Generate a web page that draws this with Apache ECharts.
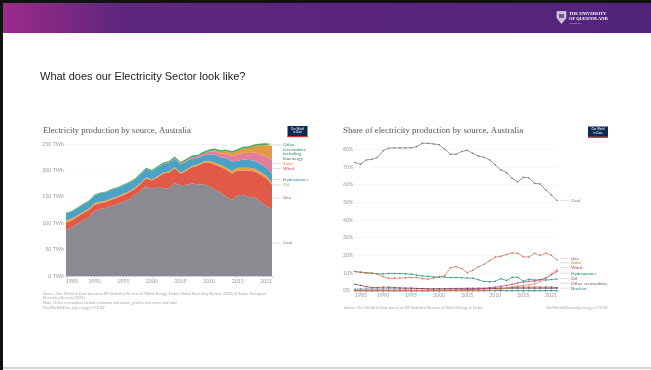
<!DOCTYPE html>
<html>
<head>
<meta charset="utf-8">
<script src="https://cdn.jsdelivr.net/npm/echarts/dist/echarts.min.js"></script>
<style>
html,body{margin:0;padding:0;background:#fff;}
#slide{width:651px;height:370px;}
</style>
</head>
<body>
<div id="slide"></div>
<script>
// Years on the horizontal axes
const years = ['1985','1986','1987','1988','1989','1990','1991','1992','1993','1994',
  '1995','1996','1997','1998','1999','2000','2001','2002','2003','2004',
  '2005','2006','2007','2008','2009','2010','2011','2012','2013','2014',
  '2015','2016','2017','2018','2019','2020','2021'];
const labelYears = ['1985','1990','1995','2000','2005','2010','2015','2021'];

// Electricity production by source, TWh
const coalTWh  = [88,92,99,105,111,123,127,129,133,136, 140,145,153,161,170,165,169,166,166,176, 172,173,175,174,174,170,164,158,150,144, 153,154,149,149,140,133,126];
const gasTWh   = [13,13,13,14,14,12,11,11,12,12, 13,13,12,13,15,16,18,28,30,28, 22,26,31,35,40,45,47,49,51,50, 47,46,51,49,52,52,47];
const oilTWh   = [4.6,3.8,3.1,2.5,2.7,3.1,3.1,2.9,2.6,2.5, 2.6,2.3,2.2,2.1,2.1,2,2.1,2.2,2.2,2.2, 2.2,2.2,2.3,2.3,2.4,3.1,3.6,3.6,4.2,4.7, 4.8,4.8,4.9,4.9,5,4.9,4.4];
const hydroTWh = [13.3,13.4,13.7,14.1,14.1,14.7,15.4,15.7,15.9,16.1, 16.1,15.7,15.2,15.8,16,15.6,16.2,15.9,16.1,16.3, 15.6,15.5,14.2,12,11.8,12.7,15.6,13.7,17.7,18, 13.4,15.7,14.7,15.6,15,15.4,16.3];
const windTWh  = [0,0,0,0,0,0,0,0,0,0, 0,0,0,0,0,0,0.2,0.4,0.6,0.9, 1.3,1.8,2.3,2.8,3.8,4.8,6,7.1,8.5,10.3, 11.7,12.8,13.2,15.3,18,21,25];
const solarTWh = [0,0,0,0,0,0,0,0,0,0, 0,0,0,0,0,0,0,0,0,0, 0,0,0,0,0.2,0.7,1.9,3.6,5.2,6.1, 7.2,8.2,9.6,12.4,17.5,22,28];
const otherTWh = [1,1.1,1.2,1.3,1.4,1.5,1.5,1.6,1.7,1.7, 1.8,1.9,2,2,2.1,2.2,2.4,2.6,2.8,3, 3,3.1,3.2,3.3,3.3,3.3,3.2,3.1,3.1,3.1, 3.2,3.2,3.3,3.3,3.3,3.3,3.2];
const prodTicks = [0,50,100,150,200,250];

// Share of electricity production by source, %
const coalShare    = [72.5,71.5,74,74.3,75.3,79.2,80.6,80.8,80.8,80.8, 80.8,81.5,83.4,83.4,83,82.6,80,77.2,77.2,78.7, 79.4,77.7,76.2,75.5,74,71.1,68.3,66.8,63.6,61.5, 64.2,63.8,60.8,60.4,57,54.2,51.1];
const gasShare     = [10.8,10.5,10,9.8,9.5,8,7,7,7.2,7.3, 7.5,7.5,6.8,6.5,7.2,7.8,8.5,13,13.6,12.5, 10.2,11.5,13.5,15,17,19,19.5,20.5,21.3,21.2, 19.2,19,21.2,20,21.2,20,17.4];
const solarShare   = [0,0,0,0,0,0,0,0,0,0, 0,0,0,0,0,0,0,0,0,0, 0,0,0,0,0.1,0.3,0.8,1.5,2.2,2.6, 3,3.4,3.9,5,7,9.5,11.8];
const windShare    = [0,0,0,0,0,0,0,0,0,0, 0,0,0,0,0,0,0.1,0.2,0.3,0.4, 0.6,0.8,1,1.2,1.6,2,2.5,3,3.6,4.4, 4.9,5.3,5.4,6.2,7.2,9,10.8];
const hydroShare   = [10.8,10.5,10.2,10,9.5,9.5,9.8,9.8,9.7,9.6, 9.3,8.8,8.3,8.2,7.8,7.8,7.7,7.4,7.5,7.3, 7.2,7,6.2,5.2,5,5.3,6.8,5.8,7.6,7.6, 5.4,6.5,6,6.3,6,6.3,6.6];
const oilShare     = [3.7,3,2.3,1.8,1.8,2,2,1.8,1.6,1.5, 1.5,1.3,1.2,1.1,1,1,1,1,1,1, 1,1,1,1,1,1.3,1.5,1.5,1.8,2, 2,2,2,2,2,2,1.8];
const otherShare   = [0.8,0.9,0.9,0.9,0.9,1,1,1,1,1, 1,1.1,1.1,1,1,1.1,1.1,1.2,1.3,1.3, 1.4,1.4,1.4,1.4,1.4,1.4,1.3,1.3,1.3,1.3, 1.3,1.3,1.3,1.3,1.3,1.3,1.3];
const nuclearShare = [0,0,0,0,0,0,0,0,0,0, 0,0,0,0,0,0,0,0,0,0, 0,0,0,0,0,0,0,0,0,0, 0,0,0,0,0,0,0];
const shareTicks = [0,10,20,30,40,50,60,70,80];

const SANS = 'Lato, "Liberation Sans", sans-serif';
const SERIF = '"Liberation Serif", "DejaVu Serif", serif';

const chart = echarts.init(document.getElementById('slide'), null, {renderer: 'canvas'});

function area(name, data, color) {
  return {
    name, type: 'line', stack: 'twh', xAxisIndex: 0, yAxisIndex: 0, data,
    symbol: 'none', smooth: false, clip: false, silent: true,
    lineStyle: {width: 0}, areaStyle: {color, opacity: 1}
  };
}
function shareLine(name, data, color, z) {
  return {
    name, type: 'line', xAxisIndex: 1, yAxisIndex: 1, data, z: z,
    symbol: 'circle', symbolSize: 1.5, clip: false, silent: true,
    itemStyle: {color}, lineStyle: {color, width: 0.7}
  };
}

const xLabel = (margin) => ({
  interval: (i, v) => labelYears.indexOf(v) >= 0,
  color: '#9a9a9a', fontSize: 5.2, fontFamily: SANS, margin: margin,
  alignMinLabel: 'left', alignMaxLabel: 'right'
});

// legend-style labels beside each chart
const leftLabels = [
  {t: 'Other', y: 145, c: '#2f8a5a'}, {t: 'renewables', y: 149.5, c: '#2f8a5a'},
  {t: 'including', y: 154, c: '#2f8a5a'}, {t: 'bioenergy', y: 158.5, c: '#2f8a5a'},
  {t: 'Solar', y: 163.5, c: '#d98a2b'}, {t: 'Wind', y: 168.5, c: '#dc4f63'},
  {t: 'Hydropower', y: 179.5, c: '#3a8fb8'}, {t: 'Oil', y: 185, c: '#d98a2b'},
  {t: 'Gas', y: 198, c: '#d9493a'}, {t: 'Coal', y: 243, c: '#777'}
];
const rightLabels = [
  {t: 'Coal', y: 200.4, c: '#777'}, {t: 'Gas', y: 258.3, c: '#a8553a'},
  {t: 'Solar', y: 262.8, c: '#d9774a'}, {t: 'Wind', y: 267.6, c: '#c23a7c'},
  {t: 'Hydropower', y: 273.2, c: '#16917f'}, {t: 'Oil', y: 278.6, c: '#8c3b3b'},
  {t: 'Other renewables', y: 283.3, c: '#666'}, {t: 'Nuclear', y: 288.2, c: '#1f7d86'}
];

const graphics = [];
// slide frame and header band
graphics.push({type: 'rect', shape: {x: 0, y: 0, width: 651, height: 3}, style: {fill: '#111'}});
graphics.push({type: 'rect', shape: {x: 3, y: 3, width: 648, height: 30},
  style: {fill: new echarts.graphic.LinearGradient(0, 0, 1, 0, [
    {offset: 0, color: '#9d2a8b'}, {offset: 0.18, color: '#5f267d'}, {offset: 1, color: '#51247a'}])}});
graphics.push({type: 'rect', shape: {x: 0, y: 0, width: 3, height: 370}, style: {fill: '#111'}});
graphics.push({type: 'rect', shape: {x: 3, y: 367, width: 648, height: 2}, style: {fill: '#d4d4d4'}});
// university crest and wordmark
graphics.push({type: 'polygon', shape: {points: [[557, 11.5], [566, 11.5], [566, 18], [561.5, 23.5], [557, 18]]},
  style: {fill: '#c9bfd8', stroke: '#e8e2f0', lineWidth: 0.6}});
graphics.push({type: 'rect', shape: {x: 559, y: 14, width: 5, height: 4}, style: {fill: '#6e5a8c'}});
graphics.push({type: 'text', x: 569, y: 14, style: {text: 'THE UNIVERSITY', fill: '#fff', font: 'bold 4.3px ' + SERIF, verticalAlign: 'middle'}});
graphics.push({type: 'text', x: 569, y: 19, style: {text: 'OF QUEENSLAND', fill: '#fff', font: 'bold 4.5px ' + SERIF, verticalAlign: 'middle'}});
graphics.push({type: 'text', x: 569, y: 23.5, style: {text: 'AUSTRALIA', fill: '#cfc4e0', font: '2.4px ' + SANS, verticalAlign: 'middle'}});
// slide heading
graphics.push({type: 'text', x: 40, y: 77, style: {text: 'What does our Electricity Sector look like?', fill: '#222',
  font: '11px "Liberation Sans", Arial, sans-serif', verticalAlign: 'middle'}});

// Our World in Data badges
function badge(x, y) {
  graphics.push({type: 'rect', shape: {x: x, y: y, width: 20, height: 11}, style: {fill: '#0b2a55'}});
  graphics.push({type: 'rect', shape: {x: x, y: y + 10, width: 20, height: 1.2}, style: {fill: '#d2352b'}});
  graphics.push({type: 'text', x: x + 10, y: y + 3, style: {text: 'Our World', fill: '#fff', font: '2.8px ' + SANS, align: 'center', verticalAlign: 'middle'}});
  graphics.push({type: 'text', x: x + 10, y: y + 6.5, style: {text: 'in Data', fill: '#fff', font: '2.8px ' + SANS, align: 'center', verticalAlign: 'middle'}});
}
badge(287.5, 126);
badge(588, 126.5);

leftLabels.forEach((l, i) => {
  graphics.push({type: 'text', x: 283, y: l.y, style: {text: l.t, fill: l.c, font: '4.6px ' + SANS, verticalAlign: 'middle'}});
  if (i === 0 || i >= 4) {
    graphics.push({type: 'line', shape: {x1: 273, y1: l.y, x2: 281, y2: l.y}, style: {stroke: '#bbb', lineWidth: 0.5}});
  }
});
rightLabels.forEach((l) => {
  graphics.push({type: 'text', x: 571, y: l.y, style: {text: l.t, fill: l.c, font: '4.6px ' + SANS, verticalAlign: 'middle'}});
  graphics.push({type: 'line', shape: {x1: 560, y1: l.y, x2: 569, y2: l.y}, style: {stroke: '#bbb', lineWidth: 0.5}});
});

// source notes
const noteStyle = (t) => ({text: t, fill: '#a8a8a8', font: '3.8px ' + SANS, verticalAlign: 'middle'});
graphics.push({type: 'text', x: 43, y: 293.5, style: noteStyle('Source: Our World in Data based on BP Statistical Review of World Energy, Ember Global Electricity Review (2022) & Ember European')});
graphics.push({type: 'text', x: 43, y: 298, style: noteStyle('Electricity Review (2022)')});
graphics.push({type: 'text', x: 43, y: 303, style: noteStyle('Note: Other renewables includes biomass and waste, geothermal, wave and tidal')});
graphics.push({type: 'text', x: 43, y: 308, style: noteStyle('OurWorldInData.org/energy • CC BY')});
graphics.push({type: 'text', x: 344, y: 308, style: noteStyle('Source: Our World in Data based on BP Statistical Review of World Energy & Ember')});
graphics.push({type: 'text', x: 608, y: 308, style: Object.assign(noteStyle('OurWorldInData.org/energy • CC BY'), {align: 'right'})});

const option = {
  animation: false,
  backgroundColor: '#fff',
  title: [
    {text: 'Electricity production by source, Australia', left: 43, top: 126, padding: 0,
      textStyle: {fontFamily: SERIF, fontSize: 8.7, fontWeight: 'normal', color: '#555'}},
    {text: 'Share of electricity production by source, Australia', left: 343, top: 126, padding: 0,
      textStyle: {fontFamily: SERIF, fontSize: 8.8, fontWeight: 'normal', color: '#555'}}
  ],
  grid: [
    {left: 66, top: 144, width: 206, height: 132, containLabel: false},
    {left: 355, top: 149.3, width: 202, height: 141.4, containLabel: false}
  ],
  xAxis: [
    {type: 'category', gridIndex: 0, data: years, boundaryGap: false,
      axisLine: {show: true, lineStyle: {color: '#bbb', width: 0.6}},
      axisTick: {show: true, interval: (i, v) => labelYears.indexOf(v) >= 0, length: 2, lineStyle: {color: '#bbb', width: 0.5}},
      axisLabel: xLabel(3), splitLine: {show: false}},
    {type: 'category', gridIndex: 1, data: years, boundaryGap: false,
      axisLine: {show: true, lineStyle: {color: '#bbb', width: 0.6}},
      axisTick: {show: true, interval: (i, v) => labelYears.indexOf(v) >= 0, length: 2, lineStyle: {color: '#bbb', width: 0.5}},
      axisLabel: xLabel(2), splitLine: {show: false}}
  ],
  yAxis: [
    {type: 'value', gridIndex: 0, min: prodTicks[0], max: prodTicks[prodTicks.length - 1], interval: 50,
      axisLine: {show: false}, axisTick: {show: false},
      axisLabel: {formatter: '{value} TWh', color: '#9a9a9a', fontSize: 5.2, fontFamily: SANS, margin: 2},
      splitLine: {show: true, lineStyle: {color: '#e2e2e2', width: 0.5, type: [2, 2]}}},
    {type: 'value', gridIndex: 1, min: shareTicks[0], max: shareTicks[shareTicks.length - 1], interval: 10,
      axisLine: {show: false}, axisTick: {show: false},
      axisLabel: {formatter: '{value}%', color: '#9a9a9a', fontSize: 5.2, fontFamily: SANS, margin: 12, align: 'left'},
      splitLine: {show: true, lineStyle: {color: '#e2e2e2', width: 0.5, type: [2, 2]}}}
  ],
  series: [
    area('Coal', coalTWh, '#8a8a90'),
    area('Gas', gasTWh, '#e05a47'),
    area('Oil', oilTWh, '#e8a040'),
    area('Hydropower', hydroTWh, '#4aa2c4'),
    area('Wind', windTWh, '#e27e9c'),
    area('Solar', solarTWh, '#e39a45'),
    area('Other renewables', otherTWh, '#4fa75a'),
    shareLine('Nuclear', nuclearShare, '#1f7d86', 2),
    shareLine('Other renewables', otherShare, '#666', 3),
    shareLine('Oil', oilShare, '#8c3b3b', 4),
    shareLine('Hydropower', hydroShare, '#16917f', 5),
    shareLine('Wind', windShare, '#c23a7c', 6),
    shareLine('Solar', solarShare, '#e0874a', 7),
    shareLine('Gas', gasShare, '#c0704f', 8),
    shareLine('Coal', coalShare, '#6f6f6f', 9)
  ],
  graphic: {elements: graphics}
};
chart.setOption(option);
</script>
</body>
</html>
